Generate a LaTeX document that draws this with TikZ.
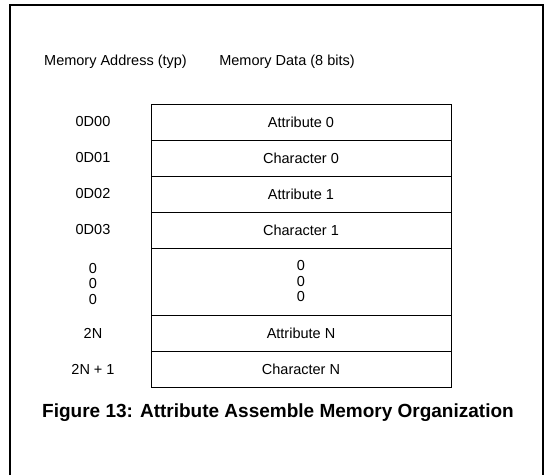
\documentclass[tikz,border=0pt]{standalone}
\usepackage{fontspec}
\setmainfont{Liberation Sans}

\begin{document}
\begin{tikzpicture}[x=1pt,y=-1pt]
				\tikzstyle{every node}=[inner sep=0pt,font=\fontsize{14.5}{15.5}\selectfont]
				\tikzstyle{cell}=[draw,line width=0.9pt,minimum width=300pt,minimum height=36pt]
				\tikzstyle{gapcell}=[cell,minimum height=67pt,align=center]
				\tikzstyle{addr}=[align=center]
				\useasboundingbox (0,0) rectangle (549,475);
				\draw[line width=1.3pt] (10,475) -- (10,5) -- (543,5) -- (543,475);
				\node (haddr) at (115.5,62) {Memory Address (typ)};
				\node (hdata) at (287,62) {Memory Data (8 bits)};
				\node[cell] (att0) at (301,122) {Attribute 0};
				\node[cell] (chr0) at (301,158) {Character 0};
				\node[cell] (att1) at (301,194) {Attribute 1};
				\node[cell] (chr1) at (301,230) {Character 1};
				\node[gapcell] (gap) at (301,281.5) {0\\0\\0};
				\node[cell] (attN) at (301,333) {Attribute N};
				\node[cell] (chrN) at (301,369) {Character N};
				\node[addr] (a0) at (93,122) {0D00};
				\node[addr] (a1) at (93,158) {0D01};
				\node[addr] (a2) at (93,194) {0D02};
				\node[addr] (a3) at (93,230) {0D03};
				\node[addr] (agap) at (93,283.5) {0\\0\\0};
				\node[addr] (aN) at (93,333) {2N};
				\node[addr] (aN1) at (93,369) {2N + 1};
				\node[font=\bfseries\fontsize{19}{22}\selectfont] (caption) at (278,413)
					{Figure 13: Attribute Assemble Memory Organization};
				\end{tikzpicture}
\end{document}
